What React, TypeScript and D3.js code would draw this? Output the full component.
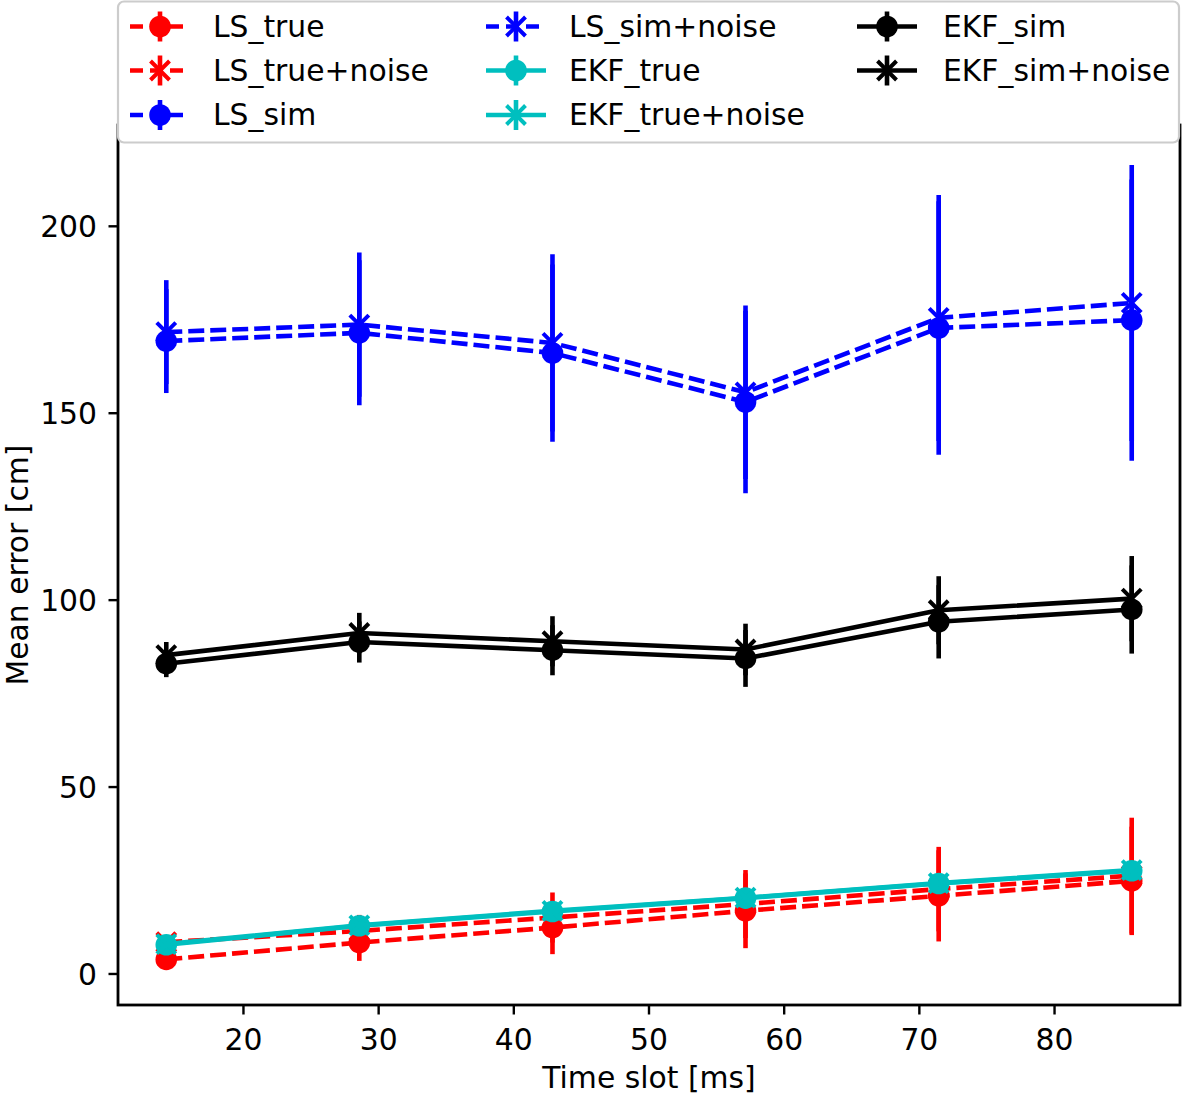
import React from "react";
import * as d3 from "d3";

// ---- data ----
const timeSlots = [14.29, 28.57, 42.86, 57.14, 71.43, 85.71];

const lsTrue = [3.9, 8.4, 12.4, 16.9, 20.9, 24.9];
const lsTrueErr = [1.5, 4.9, 7.1, 10.0, 12.2, 14.5];
const lsTrueNoise = [8.5, 11.5, 15.1, 18.7, 22.7, 26.3];
const lsTrueNoiseErr = [1.5, 4.3, 6.7, 9.1, 11.3, 15.5];

const lsSim = [169.3, 171.5, 166.1, 153.0, 172.8, 174.9];
const lsSimErr = [13.9, 19.4, 23.7, 24.4, 33.9, 37.6];
const lsSimNoise = [171.7, 173.7, 168.8, 155.6, 175.5, 179.5];
const lsSimNoiseErr = [13.9, 19.3, 23.7, 23.2, 32.9, 36.9];

const ekfTrue = [7.8, 12.9, 16.7, 20.3, 24.2, 27.6];
const ekfTrueErr = [0.8, 0.9, 1.0, 1.0, 1.1, 1.2];
const ekfTrueNoise = [8.0, 13.0, 16.9, 20.4, 24.3, 27.8];
const ekfTrueNoiseErr = [0.9, 1.0, 1.1, 1.1, 1.2, 1.3];

const ekfSim = [83.0, 88.8, 86.6, 84.4, 94.2, 97.5];
const ekfSimErr = [3.6, 5.5, 6.7, 7.6, 9.8, 11.8];
const ekfSimNoise = [85.3, 91.2, 89.0, 86.8, 97.3, 100.4];
const ekfSimNoiseErr = [3.5, 5.4, 6.7, 6.9, 9.1, 11.4];

const xTicks = [20, 30, 40, 50, 60, 70, 80];
const yTicks = [0, 50, 100, 150, 200];

const seriesNames = [
  "LS_true",
  "LS_true+noise",
  "LS_sim",
  "LS_sim+noise",
  "EKF_true",
  "EKF_true+noise",
  "EKF_sim",
  "EKF_sim+noise",
];
const seriesValues = [lsTrue, lsTrueNoise, lsSim, lsSimNoise, ekfTrue, ekfTrueNoise, ekfSim, ekfSimNoise];
const seriesErrors = [lsTrueErr, lsTrueNoiseErr, lsSimErr, lsSimNoiseErr, ekfTrueErr, ekfTrueNoiseErr, ekfSimErr, ekfSimNoiseErr];
const seriesColors = ["#ff0000", "#ff0000", "#0000ff", "#0000ff", "#00bfbf", "#00bfbf", "#000000", "#000000"];
const seriesDashed = [true, true, true, true, false, false, false, false];
const seriesMarker = ["o", "x", "o", "x", "o", "x", "o", "x"];

// ---- layout ----
const W = 1183;
const H = 1094;
const plotLeft = 118;
const plotRight = 1180;
const plotTop = 125;
const plotBottom = 1005;
const FONT = "DejaVu Sans, Liberation Sans, sans-serif";
const FS = 29.8;
const LW = 4.6;
const DASH = "16,6";

const xMin = d3.min(timeSlots) as number;
const xMax = d3.max(timeSlots) as number;
const xPad = (xMax - xMin) * 0.05;
const x = d3.scaleLinear().domain([xMin - xPad, xMax + xPad]).range([plotLeft, plotRight]);

const allLow = seriesValues.flatMap((v, i) => v.map((d, j) => d - seriesErrors[i][j]));
const allHigh = seriesValues.flatMap((v, i) => v.map((d, j) => d + seriesErrors[i][j]));
const yLo = d3.min(allLow) as number;
const yHi = d3.max(allHigh) as number;
const yPad = (yHi - yLo) * 0.05;
const y = d3.scaleLinear().domain([yLo - yPad, yHi + yPad]).range([plotBottom, plotTop]);

function Marker({ type, cx, cy, color }: { type: string; cx: number; cy: number; color: string }) {
  if (type === "o") return <circle cx={cx} cy={cy} r={10.8} fill={color} />;
  const s = 9.5;
  return (
    <path
      d={`M${cx - s},${cy - s}L${cx + s},${cy + s}M${cx - s},${cy + s}L${cx + s},${cy - s}`}
      stroke={color}
      strokeWidth={4}
      fill="none"
    />
  );
}

export default function App() {
  const line = d3
    .line<number>()
    .x((_, i) => x(timeSlots[i]))
    .y((d) => y(d));

  const legendCols = [
    { handle0: 130, text: 213 },
    { handle0: 486, text: 569 },
    { handle0: 857, text: 943 },
  ];
  const legendRows = [26.5, 70.5, 115];

  return (
    <svg
      width={W}
      height={H}
      style={{ position: "absolute", left: 0, top: 0, background: "#fff" }}
      fontFamily={FONT}
    >
      <rect x={0} y={0} width={W} height={H} fill="#fff" />

      {/* error bars first */}
      {seriesValues.map((vals, si) => (
        <g key={"err" + si}>
          {vals.map((v, i) => (
            <line
              key={i}
              x1={x(timeSlots[i])}
              x2={x(timeSlots[i])}
              y1={y(v - seriesErrors[si][i])}
              y2={y(v + seriesErrors[si][i])}
              stroke={seriesColors[si]}
              strokeWidth={LW}
            />
          ))}
        </g>
      ))}

      {/* lines and markers */}
      {seriesValues.map((vals, si) => (
        <g key={"ser" + si}>
          <path
            d={line(vals) || ""}
            fill="none"
            stroke={seriesColors[si]}
            strokeWidth={LW}
            strokeDasharray={seriesDashed[si] ? DASH : undefined}
            strokeLinejoin="round"
          />
          {vals.map((v, i) => (
            <Marker key={i} type={seriesMarker[si]} cx={x(timeSlots[i])} cy={y(v)} color={seriesColors[si]} />
          ))}
        </g>
      ))}

      {/* axes frame */}
      <rect
        x={plotLeft}
        y={plotTop}
        width={plotRight - plotLeft}
        height={plotBottom - plotTop}
        fill="none"
        stroke="#000"
        strokeWidth={2.8}
      />

      {/* x ticks */}
      {xTicks.map((t) => (
        <g key={"xt" + t}>
          <line x1={x(t)} x2={x(t)} y1={plotBottom} y2={plotBottom + 9.5} stroke="#000" strokeWidth={2.4} />
          <text x={x(t)} y={1050} textAnchor="middle" fontSize={FS} fill="#000">
            {t}
          </text>
        </g>
      ))}
      {/* y ticks */}
      {yTicks.map((t) => (
        <g key={"yt" + t}>
          <line x1={plotLeft - 9.5} x2={plotLeft} y1={y(t)} y2={y(t)} stroke="#000" strokeWidth={2.4} />
          <text x={97} y={y(t)} dy="0.36em" textAnchor="end" fontSize={FS} fill="#000">
            {t}
          </text>
        </g>
      ))}

      <text x={(plotLeft + plotRight) / 2} y={1088} textAnchor="middle" fontSize={FS} fill="#000">
        Time slot [ms]
      </text>
      <text
        transform={`translate(28,${(plotTop + plotBottom) / 2}) rotate(-90)`}
        textAnchor="middle"
        fontSize={FS}
        fill="#000"
      >
        Mean error [cm]
      </text>

      {/* legend */}
      <rect x={118} y={1.5} width={1061} height={141} rx={6} ry={6} fill="#fff" stroke="#cccccc" strokeWidth={2.2} />
      {seriesNames.map((name, si) => {
        const col = Math.floor(si / 3);
        const row = si % 3;
        const c = legendCols[col];
        const cy = legendRows[row];
        const hx0 = c.handle0;
        const hx1 = c.handle0 + 60;
        const mx = (hx0 + hx1) / 2;
        return (
          <g key={"lg" + si}>
            <line
              x1={hx0}
              x2={hx1}
              y1={cy}
              y2={cy}
              stroke={seriesColors[si]}
              strokeWidth={LW}
              strokeDasharray={seriesDashed[si] ? "13,7" : undefined}
            />
            <line x1={mx} x2={mx} y1={cy - 15} y2={cy + 15} stroke={seriesColors[si]} strokeWidth={LW} />
            <Marker type={seriesMarker[si]} cx={mx} cy={cy} color={seriesColors[si]} />
            <text x={c.text} y={cy + 10} fontSize={FS} fill="#000">
              {name}
            </text>
          </g>
        );
      })}
    </svg>
  );
}
